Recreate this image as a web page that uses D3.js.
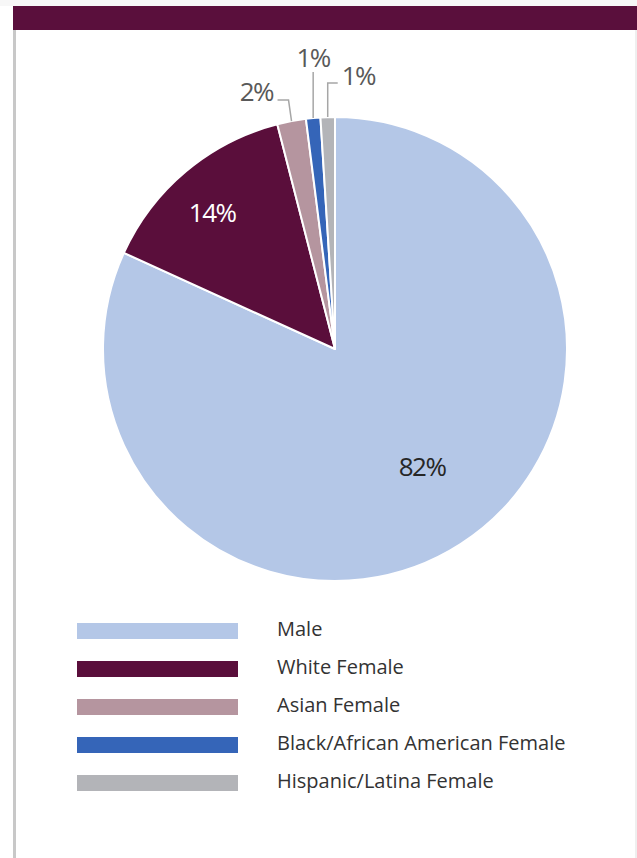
<!DOCTYPE html>
<html>
<head>
<meta charset="utf-8">
<script src="https://cdn.jsdelivr.net/npm/d3@7/dist/d3.min.js"></script>
<style>
  html, body { margin: 0; padding: 0; background: #fff; }
  svg { display: block; font-family: "Open Sans", sans-serif; }
</style>
</head>
<body>
<svg id="chart" width="637" height="858"></svg>
<script>
const categories = ["Male", "White Female", "Asian Female", "Black/African American Female", "Hispanic/Latina Female"];
const values = [81.8, 14.2, 2.0, 1.0, 1.0];
const labels = ["82%", "14%", "2%", "1%", "1%"];
const colors = ["#b4c7e7", "#5a0e3b", "#b5959f", "#3565b8", "#b3b4b8"];

const svg = d3.select("#chart");
const W = 637, H = 858;

// frame
svg.append("rect").attr("x", 0).attr("y", 0).attr("width", W).attr("height", 6).attr("fill", "#f7f7f7");
svg.append("rect").attr("x", 13).attr("y", 6).attr("width", W - 13).attr("height", 24).attr("fill", "#5a0f3c");
svg.append("rect").attr("x", 13).attr("y", 30).attr("width", 3).attr("height", H - 30).attr("fill", "#c8c8c8");
svg.append("rect").attr("x", 635).attr("y", 30).attr("width", 2).attr("height", H - 30).attr("fill", "#efefef");

const cx = 335, cy = 349, R = 232;
const g = svg.append("g").attr("transform", `translate(${cx},${cy})`);

const data = categories.map((c, i) => ({ cat: c, value: values[i], label: labels[i], color: colors[i] }));
const pie = d3.pie().sort(null).value(d => d.value);
const arcs = pie(data);
const arc = d3.arc().innerRadius(0).outerRadius(R);

g.selectAll("path.slice").data(arcs).join("path")
  .attr("class", "slice")
  .attr("d", arc)
  .attr("fill", d => d.data.color)
  .attr("stroke", "#fff")
  .attr("stroke-width", 2)
  .attr("stroke-linejoin", "round");

const labelFont = 26;
const labelSpacing = "-1.5px";

// inside labels
const deg = Math.PI / 180;
const insideLayout = {
  0: { r: 0.63, da: -3.8 * deg, fill: "#262626" },
  1: { r: 0.79, da: -2.1 * deg, fill: "#ffffff" }
};
arcs.forEach((a, i) => {
  const lay = insideLayout[i];
  if (!lay) return;
  const mid = (a.startAngle + a.endAngle) / 2 + lay.da;
  const rr = R * lay.r;
  g.append("text")
    .attr("x", rr * Math.sin(mid))
    .attr("y", -rr * Math.cos(mid))
    .attr("dy", "0.36em")
    .attr("text-anchor", "middle")
    .attr("font-size", labelFont)
    .attr("font-weight", 500)
    .attr("letter-spacing", labelSpacing)
    .attr("fill", lay.fill)
    .text(a.data.label);
});

// outside callout labels (relative to the arc edge point at mid-angle)
const outside = {
  2: { pts: [[-3, -21], [-14, -21]], tx: -18.5, ty: -20, anchor: "end" },
  3: { pts: [[0, -46]], tx: 0, ty: -51, anchor: "middle" },
  4: { pts: [[0, -34], [10, -34]], tx: 14, ty: -32, anchor: "start" }
};
const lineColor = "#a6a6a6";
arcs.forEach((a, i) => {
  const o = outside[i];
  if (!o) return;
  const mid = (a.startAngle + a.endAngle) / 2;
  const px = R * Math.sin(mid), py = -R * Math.cos(mid);
  const pts = [[px, py]].concat(o.pts.map(p => [px + p[0], py + p[1]]));
  g.append("path")
    .attr("d", d3.line()(pts))
    .attr("fill", "none")
    .attr("stroke", lineColor)
    .attr("stroke-width", 1.5);
  g.append("text")
    .attr("x", px + o.tx)
    .attr("y", py + o.ty)
    .attr("text-anchor", o.anchor)
    .attr("font-size", labelFont)
    .attr("letter-spacing", labelSpacing)
    .attr("font-weight", 500)
    .attr("fill", "#595959")
    .text(a.data.label);
});

// legend
const legend = svg.append("g").attr("transform", "translate(77,623)");
const rowH = 38;
const lg = legend.selectAll("g").data(data).join("g")
  .attr("transform", (d, i) => `translate(0,${i * rowH})`);
lg.append("rect").attr("width", 161).attr("height", 16).attr("fill", d => d.color);
lg.append("text")
  .attr("x", 200)
  .attr("y", 12.5)
  .attr("font-size", 20)
  .attr("fill", "#333333")
  .text(d => d.cat);
</script>
</body>
</html>
